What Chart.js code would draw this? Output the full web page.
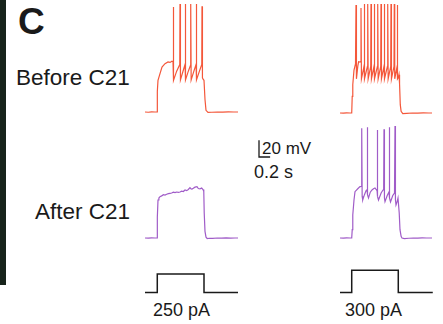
<!DOCTYPE html>
<html>
<head>
<meta charset="utf-8">
<script src="https://cdn.jsdelivr.net/npm/chart.js"></script>
<style>
  html, body { margin: 0; padding: 0; background: #fff; }
  #wrap { position: relative; width: 443px; height: 324px; overflow: hidden; font-family: "Liberation Sans", Arial, sans-serif; color: #1a1a1a; }
  #wrap canvas { position: absolute; }
  .lbl { position: absolute; line-height: 1; white-space: nowrap; }
  #bar { position: absolute; left: 0; top: 0; width: 6px; height: 285px; background: #17231b; }
</style>
</head>
<body>
<div id="wrap">
  <div id="bar"></div>
  <div class="lbl" style="left:18px;top:3px;font-size:37px;font-weight:bold;">C</div>
  <div class="lbl" style="left:16px;top:67px;font-size:22.5px;">Before C21</div>
  <div class="lbl" style="left:35px;top:201px;font-size:22.5px;">After C21</div>
  <div class="lbl" style="left:262px;top:140px;font-size:17px;">20 mV</div>
  <div class="lbl" style="left:254px;top:163px;font-size:18px;">0.2 s</div>
  <div class="lbl" style="left:153px;top:301px;font-size:18px;">250 pA</div>
  <div class="lbl" style="left:345px;top:301px;font-size:18px;">300 pA</div>

  <canvas id="before250" width="110" height="130" style="left:137px;top:-5px;"></canvas>
  <canvas id="before300" width="110" height="130" style="left:332px;top:-4px;"></canvas>
  <canvas id="after250" width="110" height="130" style="left:137px;top:121px;"></canvas>
  <canvas id="after300" width="110" height="130" style="left:332px;top:121px;"></canvas>
  <canvas id="stim250" width="110" height="40" style="left:137px;top:260px;"></canvas>
  <canvas id="stim300" width="110" height="40" style="left:332px;top:260px;"></canvas>
  <canvas id="scalebar" width="20" height="25" style="left:255px;top:136px;"></canvas>
</div>
<script>
// time in ms, membrane potential in mV, current in pA

// before C21, 250 pA
const beforeT250 = [0, 60, 120, 180, 216, 222, 234, 270, 306, 360, 414, 450, 486, 504,
  509, 517, 570, 626,
  630, 638, 680, 721,
  725, 733, 780, 819,
  823, 831, 880, 919,
  923, 931, 980, 1022,
  1026, 1034, 1048, 1062, 1080, 1098, 1134, 1200, 1300, 1400, 1500, 1600, 1674];
const beforeV250 = [-70, -70.3, -69.8, -70, -70, -45, -32, -24, -16, -12, -10, -10.5, -9, -9.5,
  56, -32, -21, -13,
  59.6, -31.5, -22, -13,
  59.6, -31.5, -21, -14,
  59.6, -31.5, -21, -13,
  59.6, -31.5, -21, -13,
  57, -29, -31, -32, -55, -68, -70.5, -70.3, -70, -70.2, -69.9, -70, -70];

// before C21, 300 pA
const beforeT300 = [0, 60, 120, 180, 211, 220, 230, 252, 279,
  288, 296, 320, 335, 360, 374,
  378, 386, 432,
  437, 445, 494,
  499, 507, 553,
  558, 566, 612,
  617, 625, 674,
  679, 687, 733,
  738, 746, 792,
  797, 805, 854,
  859, 867, 913,
  918, 926, 972,
  977, 985, 1026,
  1031, 1039, 1052, 1062, 1072, 1085, 1100, 1130, 1200, 1300, 1400, 1500, 1600, 1656];
const beforeV300 = [-70, -70.2, -69.8, -70, -70, -50, -36, -18.4, -11.2,
  59.6, -29, -14, -8.5, -9, -8,
  56, -29, -14,
  60.8, -29, -14,
  60.8, -29, -14,
  60.8, -29, -14,
  60.8, -29, -14,
  60.8, -29, -14,
  60.8, -29, -14,
  60.8, -29, -14,
  60.8, -29, -14,
  60.8, -29, -14,
  60.8, -29, -15,
  59.6, -29, -27, -24, -35, -60, -68, -70.8, -70.5, -70, -70.2, -69.8, -70, -70];

// after C21, 250 pA
const afterT250 = [0, 60, 120, 180, 216, 222, 234, 250, 270, 300, 330, 360, 390, 420, 450,
  480, 510, 540, 570, 600, 630, 660, 690, 720, 750, 780, 810, 830, 846, 870,
  900, 936, 960, 990, 1020, 1044, 1058, 1066, 1080, 1098, 1120, 1160, 1220, 1300, 1380,
  1460, 1540, 1620, 1674];
const afterV250 = [-70, -70.2, -69.8, -70, -70, -45, -24.4, -22, -20.4, -19.5, -18, -18.4, -17.5, -16.8, -16.4,
  -16, -15, -15.6, -14.8, -15.2, -14.8, -13.8, -14.2, -12.4, -13.2, -11.8, -9.6, -11, -11.2, -10.4,
  -9, -8.4, -10.6, -11, -10, -11.8, -14, -40, -62, -69, -70.6, -70.3, -70.5, -70, -70.2,
  -69.8, -70.1, -70, -70];

// after C21, 300 pA
const afterT300 = [0, 60, 120, 180, 211, 220, 230, 252, 270, 324, 360, 384,
  391, 399, 409, 440, 470, 486,
  491, 499, 513, 545, 576, 603, 630, 657, 666,
  671, 679, 693, 740, 774, 786,
  792, 800, 810, 850, 882,
  887, 895, 909, 950, 981,
  990, 998, 1008, 1030, 1044, 1053, 1066, 1080, 1100, 1116, 1160, 1240, 1320, 1400, 1480, 1560, 1656];
const afterV300 = [-70, -70.2, -69.8, -70, -70, -60, -42.4, -24.4, -14.4, -10.6, -8.4, -8,
  61.6, -20, -24.4, -18, -13, -12,
  62.8, -18, -22, -15, -12.4, -11, -10, -12.4, -12,
  59.6, -20, -24.4, -16, -12.4, -12,
  60.4, -22, -26.4, -19, -14.8,
  62.8, -22, -26.8, -19, -16,
  64.4, -24, -30.4, -26, -22, -22, -40, -60, -68, -70, -70.8, -70.3, -70, -70.2, -69.8, -70, -70];

// current steps
const stimT250 = [0, 221, 221, 1062, 1062, 1674];
const stimI250 = [0, 0, 250, 250, 0, 0];
const stimT300 = [0, 211, 211, 1049, 1049, 1670];
const stimI300 = [0, 0, 300, 300, 0, 0];

// scale bar: 0.2 s, 20 mV
const scaleT = [0, 0, 200];
const scaleV = [20, 0, 0];

const red = '#f4573a';
const purple = '#a05cc8';

function pts(xs, ys) {
  return xs.map((x, i) => ({ x: x, y: ys[i] }));
}

function trace(id, xs, ys, color, width, xr, yr) {
  const ctx = document.getElementById(id).getContext('2d');
  return new Chart(ctx, {
    type: 'scatter',
    data: {
      datasets: [{
        data: pts(xs, ys),
        showLine: true,
        borderColor: color,
        borderWidth: width,
        pointRadius: 0,
        tension: 0,
        fill: false,
        clip: false
      }]
    },
    options: {
      responsive: false,
      animation: false,
      events: [],
      layout: { padding: 0 },
      plugins: { legend: { display: false }, tooltip: { enabled: false } },
      scales: {
        x: { type: 'linear', display: false, min: xr[0], max: xr[1] },
        y: { type: 'linear', display: false, min: yr[0], max: yr[1] }
      }
    }
  });
}

// 18 ms per px, 1.2 mV per px
const tRange = [-144, 1836];
const vRange = [-85.6, 70.4];
const iRange = [-100, 440];

trace('before250', beforeT250, beforeV250, red, 1.2, tRange, vRange);
trace('before300', beforeT300, beforeV300, red, 1.2, tRange, vRange);
trace('after250', afterT250, afterV250, purple, 1.2, tRange, vRange);
trace('after300', afterT300, afterV300, purple, 1.2, tRange, vRange);
trace('stim250', stimT250, stimI250, '#1a1a1a', 1.5, tRange, iRange);
trace('stim300', stimT300, stimI300, '#1a1a1a', 1.5, tRange, iRange);
trace('scalebar', scaleT, scaleV, '#1a1a1a', 1.3, [-72, 288], [-4.8, 25.2]);
</script>
</body>
</html>
